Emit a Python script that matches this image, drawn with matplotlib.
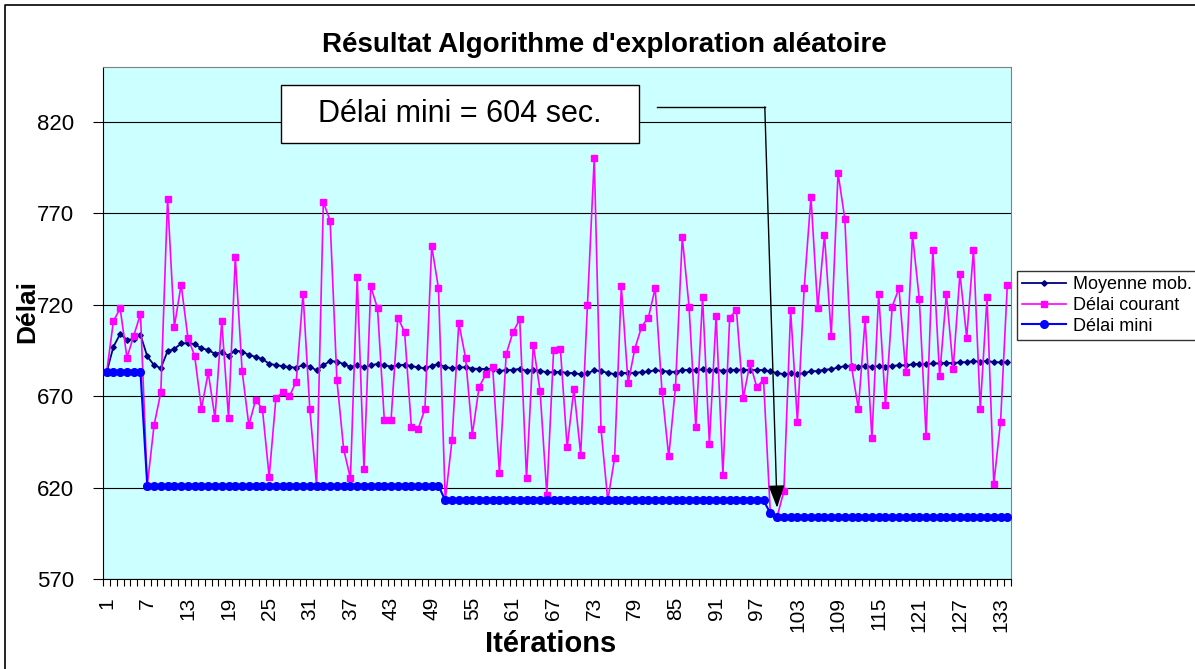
import numpy as np
import matplotlib
matplotlib.use("Agg")
import matplotlib.pyplot as plt
from matplotlib.patches import Rectangle
from matplotlib.lines import Line2D
from matplotlib.ticker import FixedLocator

plt.rcParams['font.family'] = ['Liberation Sans', 'DejaVu Sans']

# Délai courant (magenta)
delai_courant = [
    683, 711, 718, 691, 703, 715, 621, 654, 672, 778,
    708, 731, 702, 692, 663, 683, 658, 711, 658, 746,
    684, 654, 668, 663, 626, 669, 672, 670, 678, 726,
    663, 621, 776, 766, 679, 641, 625, 735, 630, 730,
    718, 657, 657, 713, 705, 653, 652, 663, 752, 729,
    613, 646, 710, 691, 649, 675, 682, 686, 628, 693,
    705, 712, 625, 698, 673, 616, 695, 696, 642, 674,
    638, 720, 800, 652, 613, 636, 730, 677, 696, 708,
    713, 729, 673, 637, 675, 757, 719, 653, 724, 644,
    714, 627, 713, 717, 669, 688, 675, 679, 606, 604,
    618, 717, 656, 729, 779, 718, 758, 703, 792, 767,
    686, 663, 712, 647, 726, 665, 719, 729, 683, 758,
    723, 648, 750, 681, 726, 685, 737, 702, 750, 663,
    724, 622, 656, 731,
]

# Moyenne mob. (navy)
moyenne_mob = [
    683.0, 697.0, 704.0, 700.8, 701.2, 703.5, 691.7, 687.0, 685.3, 694.6,
    695.8, 698.8, 699.0, 698.5, 696.1, 695.3, 693.1, 694.1, 692.2, 694.9,
    694.4, 692.5, 691.5, 690.3, 687.7, 687.0, 686.4, 685.9, 685.6, 686.9,
    686.2, 684.1, 686.9, 689.2, 688.9, 687.6, 685.9, 687.2, 685.7, 686.9,
    687.6, 686.9, 686.2, 686.8, 687.2, 686.5, 685.7, 685.2, 686.6, 687.5,
    686.0, 685.2, 685.7, 685.8, 685.1, 684.9, 684.9, 684.9, 683.9, 684.1,
    684.4, 684.9, 683.9, 684.2, 684.0, 683.0, 683.1, 683.3, 682.7, 682.6,
    682.0, 682.5, 684.1, 683.7, 682.7, 682.1, 682.7, 682.7, 682.8, 683.1,
    683.5, 684.1, 683.9, 683.4, 683.3, 684.1, 684.5, 684.2, 684.6, 684.2,
    684.5, 683.9, 684.2, 684.5, 684.4, 684.4, 684.3, 684.3, 683.5, 682.7,
    682.0, 682.4, 682.1, 682.6, 683.5, 683.8, 684.5, 684.7, 685.7, 686.4,
    686.4, 686.2, 686.4, 686.1, 686.4, 686.2, 686.5, 686.9, 686.8, 687.4,
    687.7, 687.4, 687.9, 687.9, 688.2, 688.1, 688.5, 688.6, 689.1, 688.9,
    689.2, 688.7, 688.4, 688.7,
]

# Délai mini (blue)
delai_mini = [
    683, 683, 683, 683, 683, 683, 621, 621, 621, 621,
    621, 621, 621, 621, 621, 621, 621, 621, 621, 621,
    621, 621, 621, 621, 621, 621, 621, 621, 621, 621,
    621, 621, 621, 621, 621, 621, 621, 621, 621, 621,
    621, 621, 621, 621, 621, 621, 621, 621, 621, 621,
    613, 613, 613, 613, 613, 613, 613, 613, 613, 613,
    613, 613, 613, 613, 613, 613, 613, 613, 613, 613,
    613, 613, 613, 613, 613, 613, 613, 613, 613, 613,
    613, 613, 613, 613, 613, 613, 613, 613, 613, 613,
    613, 613, 613, 613, 613, 613, 613, 613, 606, 604,
    604, 604, 604, 604, 604, 604, 604, 604, 604, 604,
    604, 604, 604, 604, 604, 604, 604, 604, 604, 604,
    604, 604, 604, 604, 604, 604, 604, 604, 604, 604,
    604, 604, 604, 604,
]

iterations = list(range(1, len(delai_courant) + 1))
y_ticks = [570, 620, 670, 720, 770, 820]

fig = plt.figure(figsize=(11.95, 6.69), dpi=100)
ax = fig.add_axes([0.0864, 0.1345, 0.7594, 0.7654])
ax.set_facecolor('#CCFFFF')

ax.plot(iterations, moyenne_mob, color='#000080', lw=1.3, marker='D', ms=2.8, label='Moyenne mob.', zorder=3)
ax.plot(iterations, delai_courant, color='#FF00FF', lw=1.2, marker='s', ms=5, label='Délai courant', zorder=4)
ax.plot(iterations, delai_mini, color='#0000FF', lw=1.5, marker='o', ms=5.5, label='Délai mini', zorder=5)

ax.set_xlim(0.5, len(delai_courant) + 0.5)
ax.set_ylim(570, 850)
ax.set_yticks(y_ticks)
ax.yaxis.grid(True, color='black', lw=0.8)
ax.set_axisbelow(True)
ax.tick_params(axis='y', labelsize=16, length=7, direction='out', pad=14)

ax.xaxis.set_major_locator(FixedLocator(iterations[::6]))
ax.xaxis.set_minor_locator(FixedLocator(np.arange(0.5, len(delai_courant) + 1, 1)))
ax.tick_params(axis='x', which='major', length=0, labelsize=15, labelrotation=90, pad=13)
ax.tick_params(axis='x', which='minor', length=5, width=0.8, direction='out')

for s in ['top', 'right']:
    ax.spines[s].set_color('#808080')
for s in ['left', 'bottom']:
    ax.spines[s].set_color('black')

fig.text(0.506, 0.933, "Résultat Algorithme d'exploration aléatoire",
         ha='center', va='center', fontsize=20, fontweight='bold')
fig.text(0.461, 0.037, 'Itérations', ha='center', va='center', fontsize=21, fontweight='bold')
fig.text(0.023, 0.535, 'Délai', ha='center', va='center', fontsize=19, fontweight='bold', rotation=90)

# annotation box + connector
ax.add_patch(Rectangle((0.1958, 0.8516), 0.3948, 0.1132, transform=ax.transAxes,
                       fc='white', ec='black', lw=1, zorder=6))
ax.text(0.393, 0.908, 'Délai mini = 604 sec.', transform=ax.transAxes, ha='center', va='center',
        fontsize=22, zorder=7)
ax.plot([0.610, 0.729], [0.922, 0.922], color='black', lw=1, transform=ax.transAxes, zorder=6)
ax.annotate('', xy=(100, 609), xycoords='data', xytext=(0.729, 0.922), textcoords='axes fraction',
            arrowprops=dict(arrowstyle='-|>,head_length=1.4,head_width=0.5', color='black', lw=1,
                            shrinkA=0, shrinkB=0), zorder=6)

fig.legend(loc='upper left', bbox_to_anchor=(0.851, 0.595), fontsize=13, frameon=True,
           fancybox=False, edgecolor='black', handlelength=2.4, labelspacing=0.2,
           borderpad=0.3, handletextpad=0.4, borderaxespad=0)

# chart-area border (only top and left edges visible in the original)
fig.lines.append(Line2D([0.0045, 0.0045, 1.0], [0.0, 0.9925, 0.9925], transform=fig.transFigure,
                        color='black', lw=1.2))

fig.savefig('out.png', dpi=100)
